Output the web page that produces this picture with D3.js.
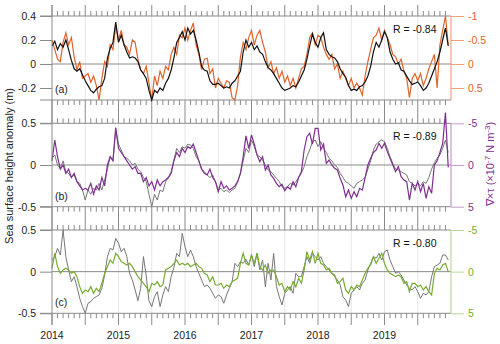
<!DOCTYPE html>
<html>
<head>
<meta charset="utf-8">
<script src="https://cdn.jsdelivr.net/npm/d3@7"></script>
<style>
  body { margin: 0; background: #fff; }
  text { font-family: "Liberation Sans", Arial, sans-serif; }
</style>
</head>
<body>
<div id="chart"></div>
<script>
// Half-monthly series, starting January 2014
var yearLabels = [2014, 2015, 2016, 2017, 2018, 2019];

// (a) sea surface height (m) and wind stress curl (x10^-7 N m^-3, axis reversed)
var sshA = [0.15,0.19,0.12,0.17,0.14,0.20,0.12,0.03,-0.04,-0.06,-0.04,-0.09,-0.14,-0.18,-0.22,-0.24,-0.21,-0.19,-0.18,-0.12,0.05,0.13,0.18,0.35,
  0.18,0.24,0.16,0.10,0.05,0.06,0.05,0.02,-0.05,-0.08,-0.12,-0.22,-0.30,-0.22,-0.24,-0.20,-0.22,-0.16,-0.12,-0.05,0.05,0.18,0.22,0.27,
  0.20,0.30,0.25,0.28,0.20,0.10,-0.02,-0.05,-0.06,-0.14,-0.17,-0.17,-0.16,-0.18,-0.20,-0.19,-0.20,-0.16,-0.14,-0.10,-0.06,0.10,0.20,0.14,
  0.18,0.12,0.15,0.10,0.08,0.02,-0.03,-0.05,-0.08,-0.12,-0.16,-0.20,-0.22,-0.21,-0.20,-0.18,-0.19,-0.15,-0.10,-0.05,0.04,0.15,0.25,0.18,
  0.14,0.22,0.26,0.12,0.08,0.06,0.05,0.02,-0.04,-0.08,-0.11,-0.18,-0.22,-0.21,-0.22,-0.19,-0.18,-0.15,-0.10,-0.02,0.10,0.18,0.14,0.20,
  0.27,0.22,0.10,0.04,0.00,0.01,-0.05,-0.06,-0.10,-0.14,-0.17,-0.16,-0.15,-0.18,-0.22,-0.20,-0.16,-0.10,-0.04,0.02,0.10,0.20,0.30,0.15];
var curlA = [-0.5,-0.3,-0.1,-0.05,-0.45,-0.65,-0.4,-0.55,-0.15,0.12,-0.05,0.3,0.25,0.2,0.38,0.25,0.45,0.75,0.3,-0.05,0.05,-0.4,-0.3,-0.8,
  -0.5,-0.7,-0.4,-0.35,-0.2,-0.5,-0.45,-0.1,0.12,0.2,0.05,0.4,0.75,0.25,0.45,0.15,0.3,0.05,0.12,-0.2,-0.35,-0.2,-0.6,-0.55,
  -0.75,-0.5,-0.7,-0.85,-0.4,-0.2,0.12,-0.1,-0.12,0.2,0.1,0.5,0.3,0.4,0.5,0.35,0.38,0.7,0.75,0.45,-0.15,-0.45,-0.3,-0.55,
  -0.7,-0.4,-0.6,-0.7,-0.45,-0.25,0.08,-0.05,0.2,0.08,0.3,0.15,0.38,0.25,0.45,0.3,0.5,0.3,0.1,0.05,-0.2,-0.55,-0.65,-0.4,
  -0.6,-0.55,-0.35,-0.2,-0.1,-0.2,0.1,0.0,0.3,0.15,0.3,0.45,0.3,0.5,0.4,0.5,0.65,0.25,-0.05,-0.3,-0.55,-0.6,-0.75,-0.5,
  -0.7,-0.55,-0.4,-0.2,-0.15,0.0,-0.1,0.15,0.3,0.7,0.3,0.2,0.35,0.2,0.45,0.3,0.1,-0.05,-0.2,0.5,-0.4,-0.7,-1.0,-0.4];

// (b)
var sshB = [0.08,0.12,0.0,-0.04,0.05,-0.08,-0.1,-0.15,-0.12,-0.2,-0.22,-0.3,-0.42,-0.3,-0.35,-0.28,-0.3,-0.22,-0.3,-0.18,-0.05,0.1,0.05,0.42,
  0.25,0.18,0.1,0.08,0.05,0.0,0.02,-0.05,-0.08,-0.15,-0.2,-0.35,-0.5,-0.35,-0.42,-0.3,-0.32,-0.2,-0.15,-0.08,0.06,0.2,0.15,0.22,
  0.2,0.25,0.24,0.2,0.1,0.05,-0.05,-0.08,-0.12,-0.15,-0.12,-0.2,-0.3,-0.28,-0.32,-0.3,-0.33,-0.3,-0.28,-0.2,-0.1,0.05,0.2,0.15,
  0.3,0.22,0.12,0.1,0.06,0.0,-0.06,-0.08,-0.12,-0.16,-0.2,-0.26,-0.28,-0.26,-0.22,-0.24,-0.2,-0.15,-0.1,-0.02,0.1,0.18,0.28,0.3,
  0.22,0.28,0.2,0.15,0.08,0.05,0.0,-0.03,-0.1,-0.15,-0.2,-0.22,-0.25,-0.28,-0.22,-0.2,-0.18,-0.15,-0.05,0.05,0.18,0.25,0.28,0.3,
  0.28,0.2,0.1,0.02,-0.05,-0.06,-0.08,-0.1,-0.12,-0.2,-0.22,-0.25,-0.22,-0.25,-0.2,-0.22,-0.15,-0.05,0.03,0.08,0.12,0.2,0.3,0.15];
var curlB = [-0.5,-3,-1,0.5,0,1,0.5,1.5,1,2,2.5,3,2.8,3,2.2,3.5,2.5,3,1.5,2.5,0,-1,-0.5,-4.5,
  -2,-1.5,-1,-0.5,0,0.5,0.2,1,1,2,1.5,2.5,2,3,1.8,2.5,2,1.8,1.5,1,-0.5,-1.5,-1,-2,
  -1.5,-2.2,-2,-2.5,-1.5,-0.5,0.5,1,1.2,0.5,1.5,2,3.2,2,2.8,2.5,3,2.8,2.5,2,1,-1,-3.5,-2,
  -3.6,-2.5,-1.2,-0.4,-1,0.6,0,1.2,1.6,2.2,2.6,2.3,3.1,2.6,2.9,2.0,2.6,1.5,0.8,-1.8,-3.4,-3.8,-2.5,-4.4,
  -4.4,-1.8,-2.5,-0.2,-0.6,0,0.4,0.6,1.6,2.4,3.8,3.0,4.0,3.2,3.8,2.8,3.0,1.5,0.0,-0.8,-1.5,-1.8,-2.6,-2.0,
  -2.6,-1.6,-0.8,0.0,0.8,0.2,1.4,1.8,2.0,4.2,2.2,3.0,2.0,3.2,2.2,4.0,2.6,3.4,0.0,-0.5,-1.5,-2.6,-6.3,0.3];

// (c)
var sshC = [0.14,0.18,0.28,0.2,0.5,0.18,0.02,-0.12,-0.06,-0.18,-0.32,-0.42,-0.5,-0.38,-0.36,-0.32,-0.3,-0.28,-0.2,-0.04,0.18,0.28,0.26,0.4,
  0.34,0.24,0.28,0.18,-0.02,-0.1,-0.22,-0.35,-0.2,0.18,-0.05,-0.35,-0.42,-0.3,-0.24,-0.42,-0.28,-0.18,-0.24,-0.06,0.05,0.22,0.18,0.46,
  0.3,0.18,0.26,0.18,0.06,-0.02,-0.1,-0.18,-0.16,-0.2,-0.26,-0.32,-0.28,-0.3,-0.38,-0.28,-0.2,-0.12,0.1,0.06,0.12,0.1,0.15,0.08,
  0.2,0.06,0.22,0.02,0.14,-0.18,0.1,-0.1,0.22,-0.18,-0.3,-0.4,-0.26,-0.22,-0.18,-0.26,-0.02,-0.06,-0.06,0.06,0.18,0.1,0.22,0.18,
  0.14,0.18,0.1,0.06,0.02,-0.02,-0.06,-0.1,-0.16,-0.3,-0.34,-0.42,-0.26,-0.22,-0.18,-0.22,-0.14,-0.1,0.02,0.1,0.18,0.16,0.22,0.14,
  0.24,0.26,0.14,0.06,-0.02,0.0,-0.04,-0.1,-0.16,-0.2,-0.22,-0.18,-0.24,-0.32,-0.26,-0.28,-0.24,-0.06,0.06,0.08,0.1,0.2,0.2,0.14];
var curlC = [-0.4,-2.2,-0.6,0.2,-0.2,-0.4,-0.2,0.2,0.0,0.6,1.8,2.6,2.2,2.4,1.8,2.6,2.0,2.4,1.4,0.2,-0.6,-1.4,-1.0,-2.2,
  -1.8,-1.2,-1.0,-0.8,-1.0,-0.6,0.0,0.6,1.0,1.4,1.8,2.4,1.4,1.6,1.2,1.8,1.6,-0.2,-0.4,-0.6,-1.0,-1.4,-0.8,-1.0,
  -0.8,-1.0,-0.6,-0.8,-1.0,-0.6,-0.4,0.2,0.4,1.2,0.6,1.6,1.6,1.4,2.0,1.6,1.8,1.2,1.0,0.8,-1.0,-2.2,-1.0,-0.8,
  -2.0,-1.0,-2.2,-0.6,-0.2,-0.8,0.2,-0.2,-0.2,0.6,1.6,1.4,2.4,1.8,2.2,1.2,1.8,0.8,1.4,-0.2,-2.4,-1.4,-2.4,-1.0,
  -2.2,-1.0,-0.8,-0.2,-0.4,0.2,0.4,1.4,1.2,0.8,2.2,2.6,1.8,2.2,1.6,1.8,1.0,0.2,-0.4,-0.8,-1.8,-1.0,-1.6,-2.2,
  -1.0,-0.2,0.2,0.4,0.6,0.4,0.6,1.4,1.2,2.4,1.4,1.4,1.8,1.6,2.2,1.8,2.4,2.8,0.2,-0.4,-0.2,-0.8,-1.0,0.0];

var panelLetters = ["(a)", "(b)", "(c)"];
var rValues = ["R = -0.84", "R = -0.89", "R = -0.80"];
var leftTicksA = [-0.2, 0, 0.2, 0.4], rightTicksA = [-1, -0.5, 0, 0.5];
var leftTicksBC = [-0.5, 0, 0.5], rightTicksBC = [-5, 0, 5];

var dates = d3.range(sshA.length).map(function(i) { return 2014 + i / 24; });

var width = 500, height = 344;
var x0 = 52, x1 = 451;

var svg = d3.select("#chart").append("svg")
    .attr("width", width).attr("height", height);

var x = d3.scaleLinear().domain([2014, 2020]).range([x0, x1]);

var panels = [
  { top: 16, bottom: 100, ld: [-0.3, 0.4], rd: [-1, 0.75], lt: leftTicksA, rt: rightTicksA,
    ssh: sshA, curl: curlA, sshColor: "#111", color: "#e0632a", tickColor: "#f0a27c" },
  { top: 123.3, bottom: 206.7, ld: [-0.5, 0.5], rd: [-5, 5], lt: leftTicksBC, rt: rightTicksBC,
    ssh: sshB, curl: curlB, sshColor: "#777", color: "#7e2f8e", tickColor: "#c39acb" },
  { top: 230, bottom: 313.3, ld: [-0.5, 0.5], rd: [-5, 5], lt: leftTicksBC, rt: rightTicksBC,
    ssh: sshC, curl: curlC, sshColor: "#777", color: "#77ac30", tickColor: "#bcd89a" }
];

var months = d3.range(0, 72).map(function(m) { return 2014 + m / 12; });
var majors = months.filter(function(d, i) { return i % 6 === 0; }).concat([2020]);
var axisGray = "#8a8a8a";

// tick strips in the gaps between panels (major ticks run right through)
var gaps = [[5, panels[0].top], [panels[0].bottom, panels[1].top],
            [panels[1].bottom, panels[2].top], [panels[2].bottom, 325]];
gaps.forEach(function(g) {
  svg.append("g").selectAll("line").data(majors.slice(0, -1)).enter().append("line")
    .attr("x1", function(d) { return x(d); }).attr("x2", function(d) { return x(d); })
    .attr("y1", g[0]).attr("y2", g[1])
    .attr("stroke", axisGray).attr("stroke-width", 1);
});

panels.forEach(function(p, k) {
  var y = d3.scaleLinear().domain(p.ld).range([p.bottom, p.top]);
  var yr = d3.scaleLinear().domain(p.rd).range([p.top, p.bottom]);
  var g = svg.append("g");

  // vertical grid
  g.selectAll(".grid").data(majors.slice(1, -1)).enter().append("line")
    .attr("x1", function(d) { return x(d); }).attr("x2", function(d) { return x(d); })
    .attr("y1", p.top).attr("y2", p.bottom)
    .attr("stroke", "#e6e6e6").attr("stroke-width", 1);

  // zero line and borders
  g.append("line").attr("x1", x0).attr("x2", x1).attr("y1", y(0)).attr("y2", y(0))
    .attr("stroke", axisGray).attr("stroke-width", 1);
  [p.top, p.bottom].forEach(function(yy) {
    g.append("line").attr("x1", x0 - 12).attr("x2", x1).attr("y1", yy).attr("y2", yy)
      .attr("stroke", axisGray).attr("stroke-width", 1);
  });

  // minor ticks outside top and bottom
  var minors = months.filter(function(d, i) { return i % 6 !== 0; });
  g.selectAll(".mt").data(minors).enter().append("line")
    .attr("x1", function(d) { return x(d); }).attr("x2", function(d) { return x(d); })
    .attr("y1", p.top - 5).attr("y2", p.top).attr("stroke", axisGray);
  g.selectAll(".mb").data(minors).enter().append("line")
    .attr("x1", function(d) { return x(d); }).attr("x2", function(d) { return x(d); })
    .attr("y1", p.bottom).attr("y2", p.bottom + 5).attr("stroke", axisGray);

  // left axis
  var la = g.append("g").attr("transform", "translate(" + x0 + ",0)")
    .call(d3.axisLeft(y).tickValues(p.lt).tickSize(12).tickPadding(4)
      .tickFormat(function(d) { return String(d); }));
  la.select(".domain").remove();
  la.selectAll("line").attr("stroke", axisGray);
  la.selectAll("text").attr("fill", "#222").style("font-size", "10.5px")
    .style("font-family", "Liberation Sans, Arial, sans-serif");

  // right axis
  var ra = g.append("g").attr("transform", "translate(" + x1 + ",0)")
    .call(d3.axisRight(yr).tickValues(p.rt).tickSize(13).tickPadding(4)
      .tickFormat(function(d) { return String(d); }));
  ra.select(".domain").remove();
  ra.selectAll("line").attr("stroke", p.tickColor);
  ra.selectAll("text").attr("fill", p.color).style("font-size", "10.5px")
    .style("font-family", "Liberation Sans, Arial, sans-serif");
  g.append("line").attr("x1", x1).attr("x2", x1).attr("y1", p.top).attr("y2", p.bottom)
    .attr("stroke", p.tickColor).attr("stroke-width", 1.2);

  // series
  var lineL = d3.line().x(function(d, i) { return x(dates[i]); }).y(function(d) { return y(d); });
  var lineR = d3.line().x(function(d, i) { return x(dates[i]); }).y(function(d) { return yr(d); });
  if (k === 0) {
    g.append("path").datum(p.curl).attr("d", lineR).attr("fill", "none")
      .attr("stroke", p.color).attr("stroke-width", 1.2);
    g.append("path").datum(p.ssh).attr("d", lineL).attr("fill", "none")
      .attr("stroke", p.sshColor).attr("stroke-width", 1.2);
  } else {
    g.append("path").datum(p.ssh).attr("d", lineL).attr("fill", "none")
      .attr("stroke", p.sshColor).attr("stroke-width", 1);
    g.append("path").datum(p.curl).attr("d", lineR).attr("fill", "none")
      .attr("stroke", p.color).attr("stroke-width", 1.2);
  }

  // labels
  g.append("text").attr("x", 55).attr("y", p.bottom - 7).text(panelLetters[k])
    .attr("fill", "#222").style("font-size", "10.5px");
  g.append("text").attr("x", 393).attr("y", p.top + 17).text(rValues[k])
    .attr("fill", "#111").style("font-size", "10.5px");
});

// left axis line through the whole figure
svg.append("line").attr("x1", x0).attr("x2", x0).attr("y1", 5).attr("y2", 325)
  .attr("stroke", axisGray).attr("stroke-width", 1);

// year labels
svg.append("g").selectAll("text").data(yearLabels).enter().append("text")
  .attr("x", function(d) { return x(d); }).attr("y", 339)
  .attr("text-anchor", "middle").attr("fill", "#222").style("font-size", "10.5px")
  .text(function(d) { return d; });

// axis titles
svg.append("text").attr("transform", "translate(13,166) rotate(-90)")
  .attr("text-anchor", "middle").attr("fill", "#222").style("font-size", "11px")
  .text("Sea surface height anomaly (m)");

var rt = svg.append("text").attr("transform", "translate(494,164) rotate(-90)")
  .attr("text-anchor", "middle").attr("fill", "#7e2f8e").style("font-size", "11px");
rt.append("tspan").text("\u2207\u00d7\u03c4 (\u00d710");
rt.append("tspan").attr("dy", -4).style("font-size", "8px").text("-7");
rt.append("tspan").attr("dy", 4).text(" N m");
rt.append("tspan").attr("dy", -4).style("font-size", "8px").text("-3");
rt.append("tspan").attr("dy", 4).text(")");
</script>
</body>
</html>
